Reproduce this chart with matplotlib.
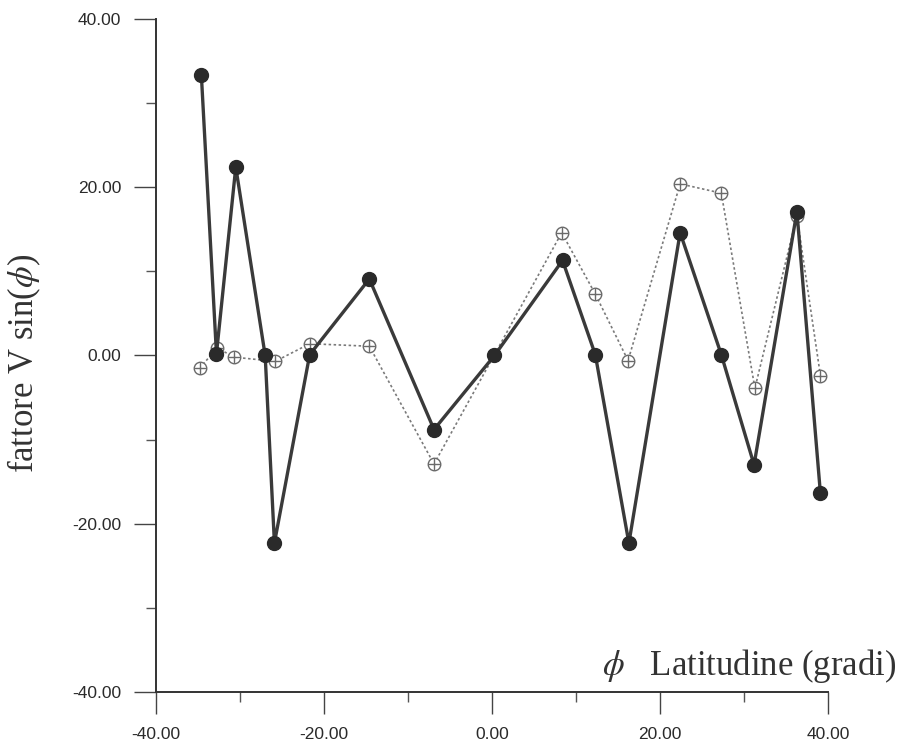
import matplotlib
matplotlib.use("Agg")
import matplotlib.pyplot as plt
from matplotlib.ticker import MultipleLocator, FormatStrFormatter

plt.rcParams["axes.unicode_minus"] = False
plt.rcParams["mathtext.fontset"] = "stix"

# latitudine (gradi) and fattore V sin(phi)
lat_a = [-34.6, -32.8, -30.5, -27.0, -25.9, -21.7, -14.6, -6.9, 0.3, 8.4,
         12.3, 16.3, 22.4, 27.3, 31.2, 36.3, 39.1]
val_a = [33.4, 0.2, 22.4, 0.0, -22.3, 0.1, 9.1, -8.8, 0.0, 11.3,
         0.1, -22.3, 14.6, 0.1, -13.0, 17.1, -16.4]

lat_b = [-34.8, -32.7, -30.7, -25.8, -21.7, -14.6, -6.9, 0.3, 8.3, 12.3,
         16.2, 22.4, 27.3, 31.3, 36.3, 39.1]
val_b = [-1.5, 0.9, -0.2, -0.7, 1.4, 1.1, -12.9, 0.1, 14.6, 7.3,
         -0.6, 20.4, 19.3, -3.9, 16.6, -2.4]

major_ticks = [-40, -20, 0, 20, 40]

fig = plt.figure(figsize=(8.99, 7.51), dpi=100)
ax = fig.add_axes([0.1735, 0.0786, 0.7475, 0.8961])

# dotted series with crossed circles
ax.plot(lat_b, val_b, linestyle=(0, (1.5, 1.5)), lw=1.2, color="#7a7a7a",
        marker="o", ms=9, mfc="white", mec="#6a6a6a", mew=1.0, zorder=2)
ax.plot(lat_b, val_b, linestyle="none", marker="+", ms=9, mec="#6a6a6a",
        mew=1.0, zorder=2)

# solid series
ax.plot(lat_a, val_a, "-", lw=2.4, color="#3a3a3a", marker="o", ms=10,
        mfc="#2a2a2a", mec="#2a2a2a", zorder=3)

ax.set_xlim(-40, 40)
ax.set_ylim(-40, 40)
ax.set_xticks(major_ticks)
ax.set_yticks(major_ticks)
ax.xaxis.set_minor_locator(MultipleLocator(10))
ax.yaxis.set_minor_locator(MultipleLocator(10))
ax.xaxis.set_major_formatter(FormatStrFormatter("%.2f"))
ax.yaxis.set_major_formatter(FormatStrFormatter("%.2f"))

ax.spines["top"].set_visible(False)
ax.spines["right"].set_visible(False)
for s in ["left", "bottom"]:
    ax.spines[s].set_linewidth(1.4)
    ax.spines[s].set_color("#333333")

ax.tick_params(which="major", direction="out", length=16, width=1.0,
               color="#444444", labelsize=12.5, labelcolor="#2a2a2a", pad=9)
ax.tick_params(which="minor", direction="out", length=7, width=1.0,
               color="#555555")
for lab in ax.get_xticklabels() + ax.get_yticklabels():
    lab.set_family("Liberation Sans")

fig.text(0.997, 0.101, r"$\phi$   Latitudine (gradi)", ha="right",
         va="baseline", fontsize=25, family="Liberation Serif", color="#333333")
fig.text(24 / 899, 1 - 363 / 751, r"fattore V sin($\phi$)", rotation=90,
         ha="center", va="center", fontsize=25, family="Liberation Serif",
         color="#333333")

fig.savefig("out.png", dpi=100, facecolor="white")
